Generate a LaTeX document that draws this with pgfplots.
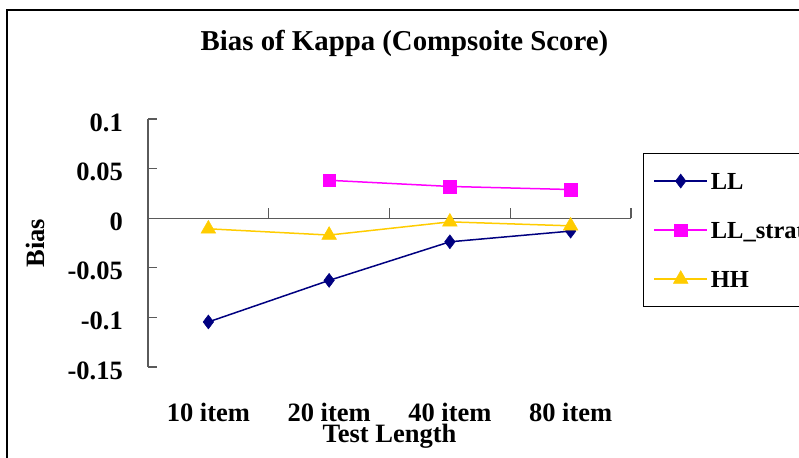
\documentclass[border=0pt]{standalone}
\usepackage{pgfplots}
\pgfplotsset{compat=1.18}
\usepackage{fontspec}
\setmainfont{Liberation Serif}
\definecolor{llnavy}{RGB}{0,0,128}
\definecolor{llmag}{RGB}{255,0,255}
\definecolor{hhgold}{RGB}{255,204,0}
\definecolor{axgray}{RGB}{90,90,90}
\begin{document}
\begin{tikzpicture}[x=1pt,y=1pt]
\useasboundingbox (0,0) rectangle (799,457);
\draw[black,line width=2pt] (6.5,-5) -- (6.5,447) -- (810,447);
\begin{axis}[
  at={(148pt,90pt)}, anchor=south west,
  scale only axis, width=483pt, height=248pt,
  xmin=-0.5, xmax=3.5, ymin=-0.15, ymax=0.1,
  axis x line*=bottom, axis y line*=left,
  x axis line style={draw=none},
  y axis line style={axgray, line width=1.3pt},
  xtick={0,1,2,3},
  xticklabels={10 item,20 item,40 item,80 item},
  x tick style={draw=none},
  ytick={-0.15,-0.1,-0.05,0,0.05,0.1},
  yticklabels={-0.15,-0.1,-0.05,0,0.05,0.1},
  y tick style={axgray, line width=1.3pt},
  tick align=inside, major tick length=9pt,
  /pgf/number format/assume math mode=true,
  ticklabel style={font=\fontsize{26.5}{30}\selectfont\bfseries, inner sep=0pt},
  xticklabel style={anchor=base, yshift=-54pt},
  yticklabel style={anchor=east, xshift=-25pt, yshift=-3.5pt},
  title={Bias of Kappa (Compsoite Score)},
  title style={at={(axis description cs:0.531,1.2512)}, anchor=base, inner sep=0pt, font=\fontsize{28.8}{32}\selectfont\bfseries},
  xlabel={Test Length},
  xlabel style={at={(axis description cs:0.5,-0.305)}, anchor=base, inner sep=0pt, font=\fontsize{26.5}{30}\selectfont\bfseries},
  ylabel={Bias},
  ylabel style={at={(axis description cs:-0.2153,0.5)}, anchor=base, inner sep=0pt, font=\fontsize{26.5}{30}\selectfont\bfseries},
  clip=false,
  legend cell align=left,
  legend style={at={(axis description cs:1.0248,0.8629)}, anchor=north west,
    draw=black, line width=1.2pt, inner xsep=10pt, inner ysep=7pt, row sep=8pt,
    font=\fontsize{24.5}{28}\selectfont\bfseries,
    nodes={inner sep=0pt, inner xsep=3pt, text height=28.6pt, text depth=12.4pt}},
  legend image code/.code={\draw[mark repeat=2,mark phase=2,line width=1.3pt] plot coordinates {(0pt,0pt) (26.5pt,0pt) (53pt,0pt)};},
]
\draw[axgray, line width=1.3pt] (axis cs:-0.5,0) -- (axis cs:3.5,0);
\pgfplotsinvokeforeach{0.5,1.5,2.5,3.5}{
  \draw[axgray, line width=1.3pt] (axis cs:#1,0) -- ([yshift=10pt]axis cs:#1,0);
}
\addplot[llnavy, line width=1.5pt, mark=diamond*, mark size=7pt, mark options={solid, fill=llnavy, line width=0.5pt}]
  coordinates {(0,-0.1046) (1,-0.0627) (2,-0.0238) (3,-0.0130)};
\addlegendentry{LL}
\addplot[llmag, line width=1.5pt, mark=square*, mark size=6.3pt, mark options={solid, fill=llmag, line width=0.5pt}]
  coordinates {(1,0.0382) (2,0.0320) (3,0.0289)};
\addlegendentry{LL\_strat}
\addplot[hhgold, line width=1.5pt, mark=triangle*, mark size=8.4pt, mark options={solid, fill=hhgold, line width=0.5pt}]
  coordinates {(0,-0.0107) (1,-0.0170) (2,-0.0037) (3,-0.0077)};
\addlegendentry{HH}
\end{axis}
\end{tikzpicture}
\end{document}
